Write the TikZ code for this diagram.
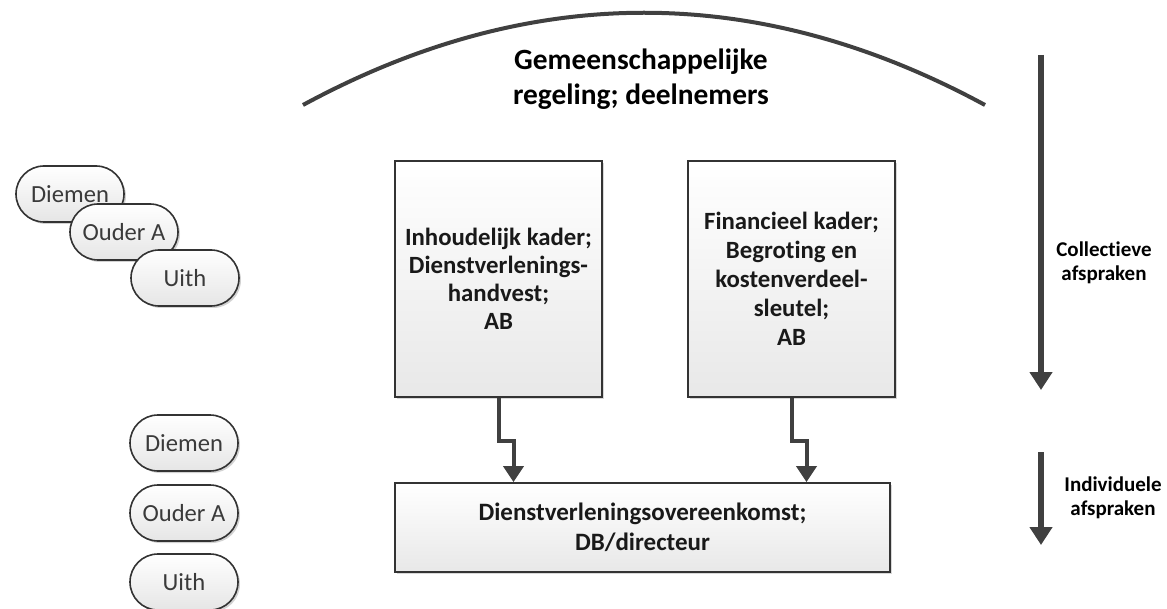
\documentclass[tikz,border=0pt]{standalone}
\usepackage{fontspec}
\setmainfont[Ligatures=CommonOff]{Carlito}
\usetikzlibrary{arrows.meta,calc,shadows}
\definecolor{linegray}{HTML}{404040}
\definecolor{txtgray}{HTML}{3A3A3A}
\tikzset{
  pill/.style={draw=black!80, line width=0.8pt, rounded corners=14pt,
    minimum width=54pt, minimum height=28pt, top color=white, bottom color=black!10,
    drop shadow={shadow xshift=1pt, shadow yshift=-1pt, fill=black!35, opacity=0.5},
    font=\fontsize{12.3}{13}\selectfont, text=txtgray, inner sep=0pt},
  kader/.style={draw=black!80, line width=0.9pt, top color=white, bottom color=black!9,
    drop shadow={shadow xshift=1.2pt, shadow yshift=-1.2pt, fill=black!30, opacity=0.5},
    align=center, text=black!90, inner sep=0pt},
  conn/.style={draw=linegray, line width=2pt, -{Triangle[width=10pt,length=8pt]}},
  bigarrow/.style={draw=linegray, line width=2.6pt, -{Triangle[width=11pt,length=9pt]}},
  sidelabel/.style={font=\bfseries\fontsize{10.5}{11.8}\selectfont, align=center, text=black},
}
\begin{document}
\begin{tikzpicture}[x=0.5pt,y=-0.5pt]
\useasboundingbox (0,0) rectangle (1167,609);
% arc
\draw[linegray, line width=2pt] (303,105) .. controls (530,-18) and (758,-18) .. (985,105);
\node[font=\bfseries\fontsize{14.7}{17.5}\selectfont, align=center] (title) at (641,79)
  {Gemeenschappelijke\\regeling; deelnemers};
% boxes
\node[kader, minimum width=103.5pt, minimum height=118pt,
  font=\bfseries\fontsize{12.4}{14}\selectfont] (lbox) at (498.5,279)
  {Inhoudelijk kader;\\Dienstverlenings-\\handvest;\\AB};
\node[kader, minimum width=103.5pt, minimum height=118pt,
  font=\bfseries\fontsize{12.4}{14.5}\selectfont] (rbox) at (791.5,279)
  {Financieel kader;\\Begroting en\\kostenverdeel-\\sleutel;\\AB};
\node[kader, minimum width=247.5pt, minimum height=44.5pt,
  font=\bfseries\fontsize{12.5}{15}\selectfont] (bbox) at (642.5,527.5)
  {Dienstverleningsovereenkomst;\\DB/directeur};
% connectors
\draw[conn] (lbox.south) -- ++(0,43) -| ($(lbox.south |- bbox.north)+(15,0)$);
\draw[conn] (rbox.south) -- ++(0,43) -| ($(rbox.south |- bbox.north)+(15,0)$);
% pills top group
\node[pill] (d1) at (70,194) {Diemen};
\node[pill] (o1) at (124,232) {Ouder A};
\node[pill] (u1) at (185,278) {Uith};
% pills bottom group
\node[pill] (d2) at (184,443) {Diemen};
\node[pill] (o2) at (184,513) {Ouder A};
\node[pill] (u2) at (184,582) {Uith};
% right arrows and labels
\coordinate (c1) at (1041,55);
\coordinate (c2) at (1041,390);
\coordinate (c3) at (1041,452);
\coordinate (c4) at (1041,545);
\draw[bigarrow] (c1) -- (c2);
\draw[bigarrow] (c3) -- (c4);
\node[sidelabel] (lab1) at (1104,263) {Collectieve\\afspraken};
\node[sidelabel] (lab2) at (1113,498) {Individuele\\afspraken};
\end{tikzpicture}
\end{document}
